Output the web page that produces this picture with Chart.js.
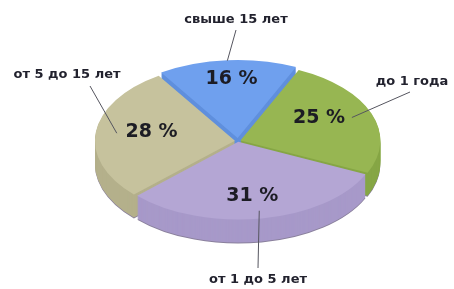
<!DOCTYPE html>
<html><head><meta charset="utf-8">
<script src="https://cdn.jsdelivr.net/npm/chart.js@4/dist/chart.umd.min.js"></script>
<style>html,body{margin:0;padding:0;background:#fff}#c{display:block}</style>
</head><body>
<canvas id="c" width="454" height="289"></canvas>
<script>
const categories = ['свыше 15 лет', 'до 1 года', 'от 1 до 5 лет', 'от 5 до 15 лет'];
const values = [16, 25, 31, 28];
const valueLabels = ['16 %', '25 %', '31 %', '28 %'];
const topColors = ['#6fa0ee', '#97b652', '#b4a6d4', '#c6c29d'];
const sideColors = ['#5f8fdd', '#86a645', '#a799c9', '#b4b08b'];

// layout (not data): screen positions of outer labels (text centre), leader-line ends, leader start radius factor
const outerLabelPos = [[236, 20], [412, 82], [258, 280], [67, 75]];
const lineEndPos = [[236, 30], [410, 92], [258, 268], [90, 86]];
const lineStartR = [1.0, 0.85, 0.9, 0.85];

const K = 1.04, S = 0.555, DEPTH = 24, TARGET_CX = 238, TARGET_CY = 141;

function setTransform(ctx, chart, dy) {
  const a = chart.getDatasetMeta(0).data[0];
  ctx.translate(TARGET_CX, TARGET_CY + dy);
  ctx.scale(K, S * K);
  ctx.translate(-a.x, -a.y);
}
function toScreen(chart, x, y) {
  const a = chart.getDatasetMeta(0).data[0];
  return [TARGET_CX + (x - a.x) * K, TARGET_CY + (y - a.y) * S * K];
}

const pie3d = {
  id: 'pie3d',
  beforeDatasetsDraw(chart) {
    const ctx = chart.ctx;
    const arcs = chart.getDatasetMeta(0).data;
    for (let d = DEPTH; d >= 1; d--) {
      ctx.save();
      setTransform(ctx, chart, d);
      arcs.forEach((arc, i) => {
        const orig = arc.options;
        const c = d === DEPTH ? '#8a809c' : sideColors[i];
        arc.options = Object.assign({}, orig, {backgroundColor: c, borderColor: c, borderWidth: 0});
        arc.draw(ctx);
        arc.options = orig;
      });
      ctx.restore();
    }
    ctx.save();
    setTransform(ctx, chart, 0);
  },
  afterDatasetsDraw(chart) {
    const ctx = chart.ctx;
    ctx.restore();
    const arcs = chart.getDatasetMeta(0).data;
    ctx.save();
    ctx.textAlign = 'center';
    ctx.textBaseline = 'middle';
    arcs.forEach((arc, i) => {
      const mid = (arc.startAngle + arc.endAngle) / 2;
      const off = (arc.options.offset || 0) / 4;
      const R = arc.outerRadius;
      const [vx, vy] = toScreen(chart, arc.x + Math.cos(mid) * (R * 0.6 + off), arc.y + Math.sin(mid) * (R * 0.74 + off));
      const [sx, sy] = toScreen(chart, arc.x + Math.cos(mid) * (R * lineStartR[i] + off), arc.y + Math.sin(mid) * (R * lineStartR[i] + off));
      ctx.strokeStyle = '#55555f';
      ctx.lineWidth = 1;
      ctx.beginPath();
      ctx.moveTo(sx, sy);
      ctx.lineTo(lineEndPos[i][0], lineEndPos[i][1]);
      ctx.stroke();
      ctx.font = 'bold 19px "DejaVu Sans", sans-serif';
      ctx.fillStyle = '#1c1c24';
      ctx.fillText(valueLabels[i], vx, vy - 2);
      ctx.font = 'bold 13px "DejaVu Sans", sans-serif';
      ctx.fillStyle = '#22222e';
      ctx.fillText(categories[i], outerLabelPos[i][0], outerLabelPos[i][1]);
    });
    ctx.restore();
  }
};

new Chart(document.getElementById('c'), {
  type: 'pie',
  data: {
    labels: categories,
    datasets: [{
      data: values,
      backgroundColor: topColors,
      borderWidth: 0,
      offset: [20, 10, 6, 12],
      hoverOffset: 0,
      clip: false
    }]
  },
  options: {
    responsive: false,
    animation: false,
    events: [],
    rotation: -33,
    layout: {padding: {left: 22, right: 0, top: 0, bottom: 0}},
    plugins: {legend: {display: false}, tooltip: {enabled: false}}
  },
  plugins: [pie3d]
});
</script>
</body></html>
